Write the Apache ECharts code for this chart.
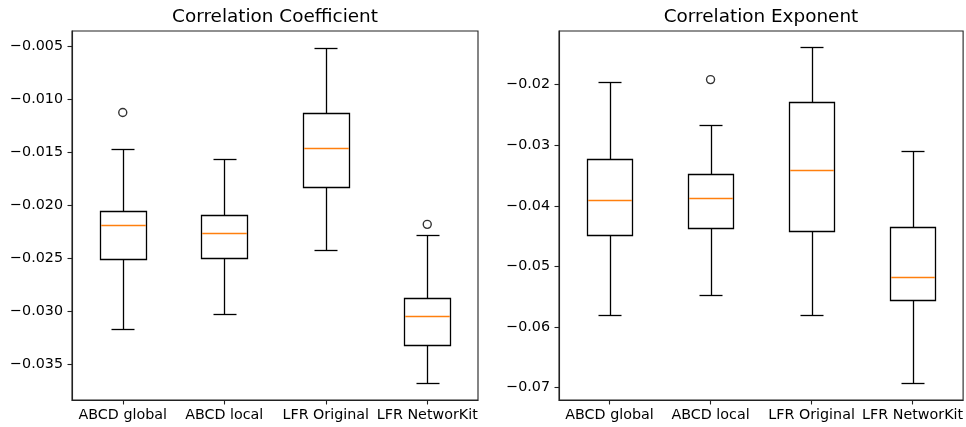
<!DOCTYPE html>
<html>
<head>
<meta charset="utf-8">
<script src="https://cdn.jsdelivr.net/npm/echarts@6/dist/echarts.min.js"></script>
<style>
html,body{margin:0;padding:0;background:#fff;}
#main{width:966px;height:427px;}
</style>
</head>
<body>
<div id="main"></div>
<script>
// ---- data ----
const categories = ['ABCD global', 'ABCD local', 'LFR Original', 'LFR NetworKit'];

const coefTitle = 'Correlation Coefficient';
const coefLow  = [-0.03160, -0.03019, -0.02423, -0.03673];
const coefQ1   = [-0.02505, -0.02498, -0.01828, -0.03313];
const coefMed  = [-0.02188, -0.02258, -0.01459, -0.03043];
const coefQ3   = [-0.02051, -0.02091, -0.01135, -0.02868];
const coefHigh = [-0.01468, -0.01562, -0.00515, -0.02279];
const coefOutliers = [[0, -0.01126], [3, -0.02179]];
const coefTicks = [-0.035, -0.030, -0.025, -0.020, -0.015, -0.010, -0.005];
const coefRange = [-0.03832, -0.00359];

const expTitle = 'Correlation Exponent';
const expLow  = [-0.05803, -0.05473, -0.05803, -0.06923];
const expQ1   = [-0.04484, -0.04364, -0.04418, -0.05555];
const expMed  = [-0.03902, -0.03874, -0.03408, -0.05181];
const expQ3   = [-0.03226, -0.03478, -0.02280, -0.04347];
const expHigh = [-0.01962, -0.02659, -0.01380, -0.03088];
const expOutliers = [[1, -0.01918]];
const expTicks = [-0.07, -0.06, -0.05, -0.04, -0.03, -0.02];
const expRange = [-0.07203, -0.01116];

// ---- chart ----
const FONT = 'DejaVu Sans';
const chart = echarts.init(document.getElementById('main'), null, {renderer: 'canvas'});

function boxData(low, q1, med, q3, high) {
  return categories.map((c, i) => [i, low[i], q1[i], med[i], q3[i], high[i]]);
}
function fmt(dec) {
  return v => (v < 0 ? '\u2212' : '') + Math.abs(v).toFixed(dec);
}
function px(v) { return Math.round(v) + 0.5; }

function renderBox(params, api) {
  const i = api.value(0);
  const pLow = api.coord([i, api.value(1)]);
  const pQ1 = api.coord([i, api.value(2)]);
  const pMed = api.coord([i, api.value(3)]);
  const pQ3 = api.coord([i, api.value(4)]);
  const pHigh = api.coord([i, api.value(5)]);
  const band = api.size([1, 0])[0];
  const hb = band * 0.45 / 2, hc = band * 0.225 / 2;
  const cx = pLow[0];
  const xc = px(cx);
  const bl = px(cx - hb), br = px(cx + hb);
  const cl = px(cx - hc), cr = px(cx + hc);
  const yLow = px(pLow[1]), yQ1 = px(pQ1[1]), yMed = px(pMed[1]), yQ3 = px(pQ3[1]), yHigh = px(pHigh[1]);
  const st = {stroke: '#000', lineWidth: 1.3, fill: null};
  return {
    type: 'group',
    children: [
      {type: 'line', shape: {x1: xc, y1: yQ1, x2: xc, y2: yLow}, style: st},
      {type: 'line', shape: {x1: xc, y1: yQ3, x2: xc, y2: yHigh}, style: st},
      {type: 'line', shape: {x1: cl, y1: yLow, x2: cr, y2: yLow}, style: st},
      {type: 'line', shape: {x1: cl, y1: yHigh, x2: cr, y2: yHigh}, style: st},
      {type: 'rect', shape: {x: bl, y: yQ3, width: br - bl, height: yQ1 - yQ3}, style: {stroke: '#000', lineWidth: 1.3, fill: 'none'}},
      {type: 'line', shape: {x1: bl + 0.7, y1: yMed, x2: br - 0.7, y2: yMed}, style: {stroke: '#ff7f0e', lineWidth: 1.3}}
    ]
  };
}

const grids = [
  {left: 72, top: 31, width: 406, height: 369},
  {left: 559, top: 31, width: 405, height: 369}
];

function xAxis(idx) {
  return {
    type: 'category', gridIndex: idx, data: categories, boundaryGap: true,
    axisLine: {show: true, lineStyle: {color: '#222', width: 1.1}},
    axisTick: {show: true, alignWithLabel: true, length: 4.5, lineStyle: {color: '#222', width: 1.1}},
    axisLabel: {color: '#000', fontFamily: FONT, fontSize: 14.3, margin: 8, interval: 0},
    splitLine: {show: false}
  };
}
function yAxis(idx, range, ticks, dec) {
  return {
    type: 'value', gridIndex: idx, min: range[0], max: range[1],
    axisLine: {show: true, lineStyle: {color: '#222', width: 1.1}},
    axisTick: {show: true, length: 4.5, lineStyle: {color: '#222', width: 1.1}, customValues: ticks},
    axisLabel: {color: '#000', fontFamily: FONT, fontSize: 14.3, margin: 9, customValues: ticks, formatter: fmt(dec)},
    splitLine: {show: false}
  };
}

const option = {
  backgroundColor: '#fff',
  animation: false,
  title: [
    {text: coefTitle, left: 275, textAlign: 'center', top: 8, padding: 0,
     textStyle: {fontFamily: FONT, fontSize: 18.4, fontWeight: 'normal', color: '#000'}},
    {text: expTitle, left: 761, textAlign: 'center', top: 8, padding: 0,
     textStyle: {fontFamily: FONT, fontSize: 18.4, fontWeight: 'normal', color: '#000'}}
  ],
  grid: grids.map(g => Object.assign({show: true, borderColor: '#222', borderWidth: 1.1, backgroundColor: 'transparent'}, g)),
  xAxis: [xAxis(0), xAxis(1)],
  yAxis: [yAxis(0, coefRange, coefTicks, 3), yAxis(1, expRange, expTicks, 2)],
  series: [
    {type: 'custom', xAxisIndex: 0, yAxisIndex: 0, renderItem: renderBox,
     encode: {x: 0, y: [1, 2, 3, 4, 5]}, data: boxData(coefLow, coefQ1, coefMed, coefQ3, coefHigh)},
    {type: 'scatter', xAxisIndex: 0, yAxisIndex: 0, data: coefOutliers, symbol: 'circle', symbolSize: 8,
     itemStyle: {color: 'rgba(0,0,0,0)', borderColor: '#000', borderWidth: 1.4}},
    {type: 'custom', xAxisIndex: 1, yAxisIndex: 1, renderItem: renderBox,
     encode: {x: 0, y: [1, 2, 3, 4, 5]}, data: boxData(expLow, expQ1, expMed, expQ3, expHigh)},
    {type: 'scatter', xAxisIndex: 1, yAxisIndex: 1, data: expOutliers, symbol: 'circle', symbolSize: 8,
     itemStyle: {color: 'rgba(0,0,0,0)', borderColor: '#000', borderWidth: 1.4}}
  ]
};
chart.setOption(option);
</script>
</body>
</html>
